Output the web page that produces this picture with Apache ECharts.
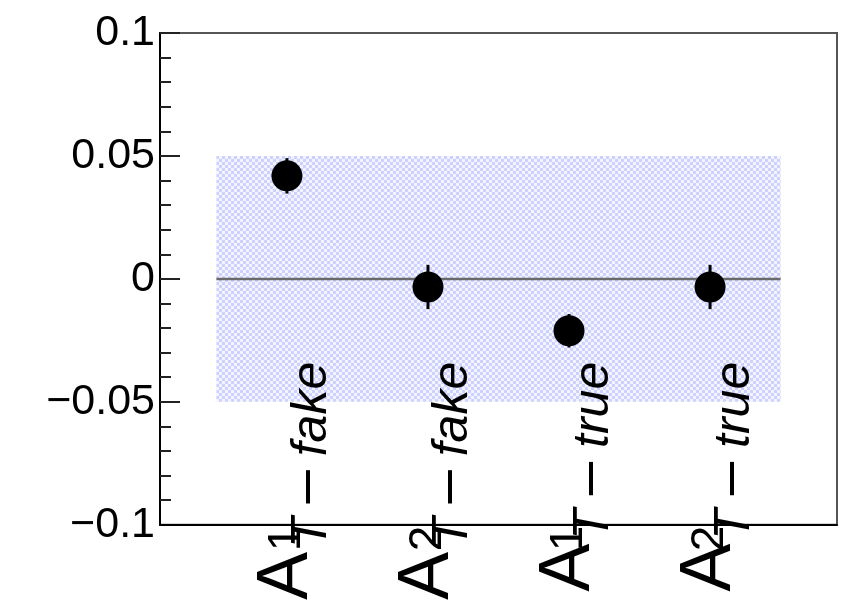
<!DOCTYPE html>
<html>
<head>
<meta charset="utf-8">
<script src="https://cdn.jsdelivr.net/npm/echarts@6/dist/echarts.min.js"></script>
<style>html,body{margin:0;padding:0;background:#fff;}#c{width:855px;height:603px;}</style>
</head>
<body>
<div id="c"></div>
<script>
// ---- data ----
const xPositions = [1, 2, 3, 4];
const labelSup = ['1', '2', '1', '2'];
const labelSub = ['fake', 'fake', 'true', 'true'];
const values = [0.0419, -0.0033, -0.0211, -0.0033];
const errors = [0.0072, 0.0090, 0.0068, 0.0090];
const bandX = [0.5, 4.5];
const bandY = [-0.05, 0.05];

const chart = echarts.init(document.getElementById('c'), null, {renderer: 'canvas'});

const points = xPositions.map((x, i) => [x, values[i]]);
const bars = xPositions.map((x, i) => [x, values[i] - errors[i], values[i] + errors[i]]);

// hatch-like pattern for the band
const pat = document.createElement('canvas');
pat.width = 6; pat.height = 6;
const pc = pat.getContext('2d');
pc.fillStyle = '#f3f4ff'; pc.fillRect(0, 0, 6, 6);
pc.fillStyle = '#ccd1fd'; pc.fillRect(0, 0, 3, 3); pc.fillRect(3, 3, 3, 3);

function fmtY(v) {
  if (Math.abs(v) < 1e-12) return '0';
  const s = String(Math.round(Math.abs(v) * 1000) / 1000);
  return v < 0 ? '\u2212' + s : s;
}
function catIndex(v) { return xPositions.indexOf(Math.round(v)); }

const baseX = {
  type: 'value', min: 0.1, max: 4.9, z: 3,
  splitLine: {show: false},
  axisTick: {show: false}
};

const option = {
  animation: false,
  backgroundColor: '#fff',
  grid: {
    left: 160, right: 18, top: 33, bottom: 78,
    show: true, borderColor: '#555', borderWidth: 2, backgroundColor: 'transparent'
  },
  xAxis: [
    Object.assign({}, baseX, {
      axisLine: {show: true, onZero: false, lineStyle: {color: '#000', width: 2}},
      axisLabel: {
        show: true,
        customValues: xPositions,
        rotate: 90,
        margin: -163,
        formatter: function (v) {
          const i = catIndex(v);
          if (i < 0) return '';
          return '{a|A}{g|}{sub|T }{dash|\u2013}{sub| ' + labelSub[i] + '}';
        },
        rich: {
          a: {fontFamily: 'Liberation Sans', fontSize: 72, lineHeight: 100, color: '#000', verticalAlign: 'middle'},
          g: {width: 4, lineHeight: 10, fontSize: 10},
          sub: {fontFamily: 'Liberation Sans', fontStyle: 'italic', fontSize: 50, lineHeight: 43, color: '#000', verticalAlign: 'bottom'},
          dash: {fontFamily: 'Liberation Sans', fontSize: 60, lineHeight: 50, color: '#000', verticalAlign: 'bottom'}
        }
      }
    }),
    Object.assign({}, baseX, {
      position: 'bottom',
      axisLine: {show: false, onZero: false},
      axisLabel: {
        show: true,
        customValues: xPositions,
        rotate: 90,
        margin: 1,
        padding: [0, 0, 42, 0],
        fontFamily: 'Liberation Sans', fontSize: 46, color: '#000',
        formatter: function (v) {
          const i = catIndex(v);
          return i < 0 ? '' : labelSup[i];
        }
      }
    })
  ],
  yAxis: {
    type: 'value', min: -0.1, max: 0.1, interval: 0.05,
    splitLine: {show: false},
    axisLine: {show: true, onZero: false, lineStyle: {color: '#000', width: 2}},
    axisTick: {show: true, inside: true, length: 20, lineStyle: {color: '#222', width: 2}},
    minorTick: {show: true, splitNumber: 5, length: 11, lineStyle: {color: '#222', width: 2}},
    axisLabel: {
      show: true, margin: 5, color: '#000',
      fontFamily: 'Liberation Sans', fontSize: 43,
      formatter: fmtY
    }
  },
  series: [
    {
      type: 'custom',
      z: 1,
      silent: true,
      data: [[bandX[0], bandY[0], bandX[1], bandY[1]]],
      renderItem: function (params, api) {
        const p0 = api.coord([api.value(0), api.value(1)]);
        const p1 = api.coord([api.value(2), api.value(3)]);
        const zy = api.coord([api.value(0), 0])[1];
        return {
          type: 'group',
          children: [
            {type: 'rect', shape: {x: p0[0], y: p1[1], width: p1[0] - p0[0], height: p0[1] - p1[1]},
             style: {fill: {image: pat, repeat: 'repeat'}}},
            {type: 'line', shape: {x1: p0[0], y1: zy, x2: p1[0], y2: zy},
             style: {stroke: '#6a6a6a', lineWidth: 2.5}}
          ]
        };
      }
    },
    {
      type: 'custom',
      z: 4,
      silent: true,
      data: bars,
      renderItem: function (params, api) {
        const a = api.coord([api.value(0), api.value(1)]);
        const b = api.coord([api.value(0), api.value(2)]);
        return {type: 'line', shape: {x1: a[0], y1: a[1], x2: b[0], y2: b[1]},
                style: {stroke: '#000', lineWidth: 3}};
      }
    },
    {
      type: 'scatter',
      z: 5,
      symbol: 'circle',
      symbolSize: 31,
      itemStyle: {color: '#000', opacity: 1},
      data: points
    }
  ]
};
chart.setOption(option);
</script>
</body>
</html>
